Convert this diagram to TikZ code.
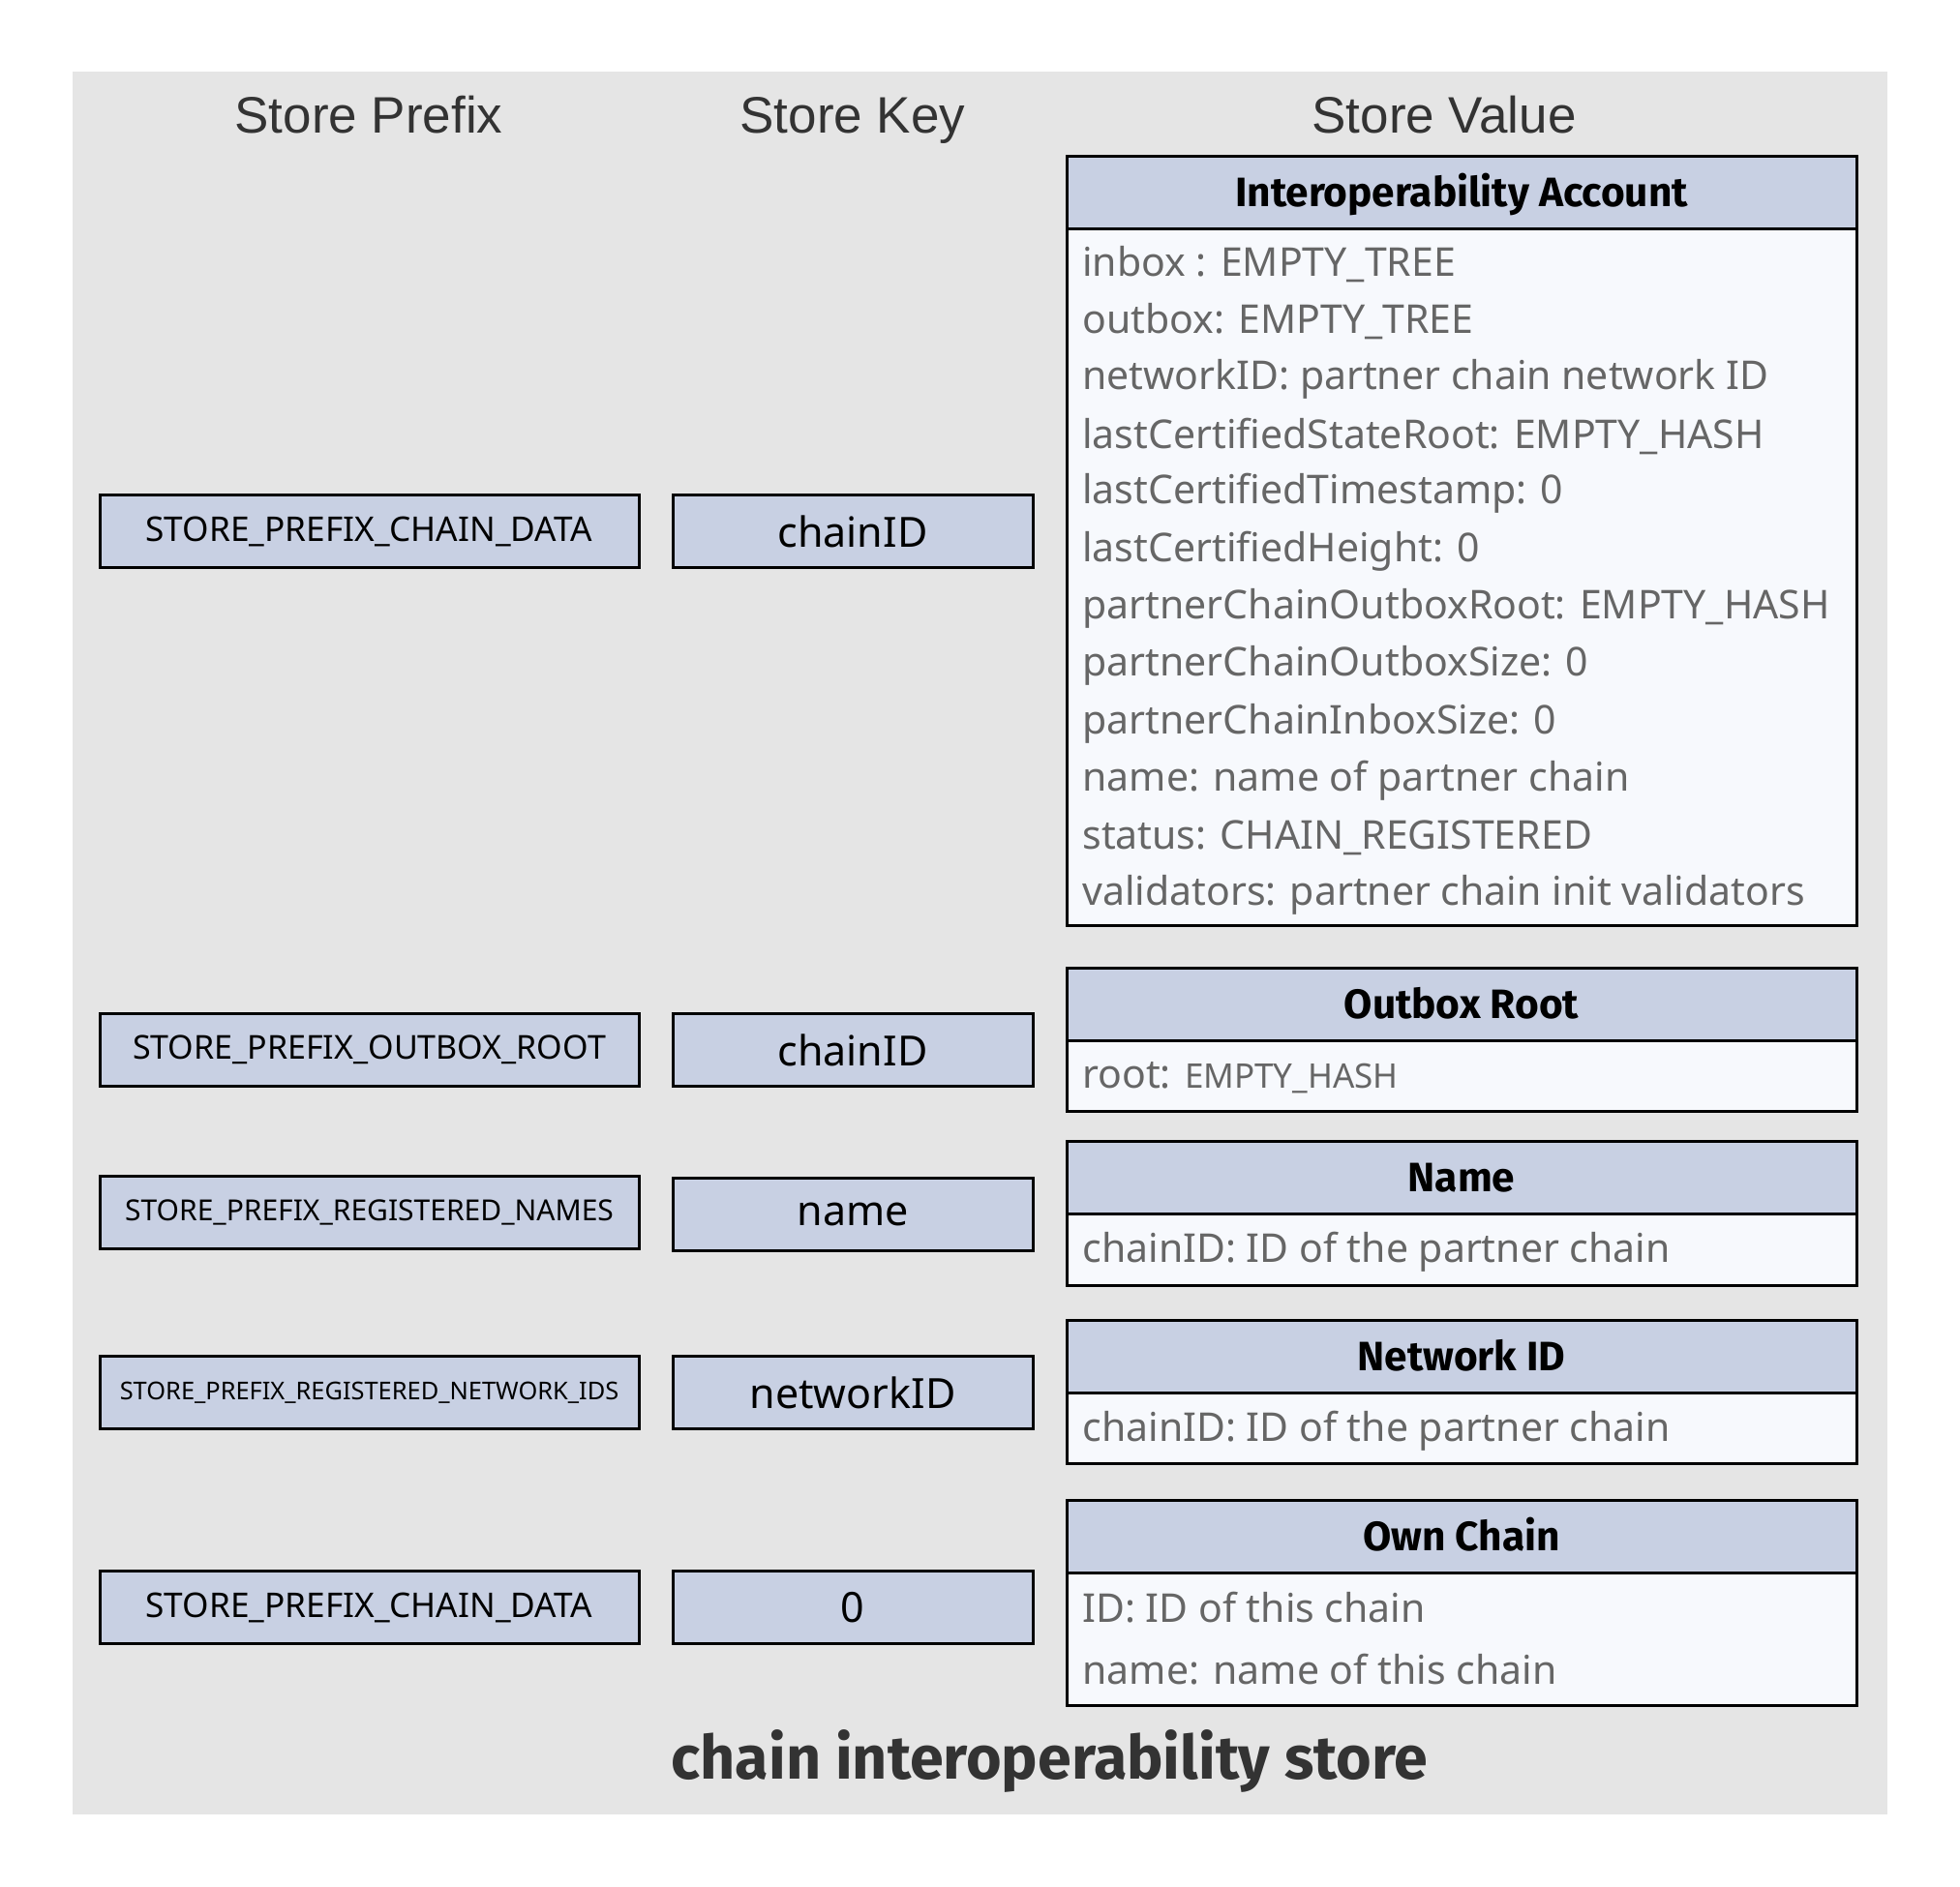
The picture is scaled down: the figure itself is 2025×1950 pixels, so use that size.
\documentclass[tikz,border=0pt]{standalone}
\usepackage{fontspec}
\setmainfont{Liberation Sans}
\newfontfamily\boxfont{Noto Sans}
\newfontfamily\headfont{Fira Sans}
\usetikzlibrary{positioning}
\definecolor{bggray}{HTML}{E5E5E5}
\definecolor{keyblue}{HTML}{C8D0E3}
\definecolor{bodywhite}{HTML}{F7F9FD}
\definecolor{fieldgray}{HTML}{666666}
\definecolor{headgray}{HTML}{333333}

\begin{document}
\begin{tikzpicture}[x=0.5pt,y=-0.5pt,
    colhead/.style={anchor=base,text=headgray,font=\fontsize{26.5}{30}\selectfont},
    prefixbox/.style={draw,line width=1.5pt,fill=keyblue,minimum width=278.5pt,
      minimum height=37.5pt,inner sep=0pt},
    keybox/.style={prefixbox,minimum width=186pt,font=\boxfont\fontsize{21.5}{24}\selectfont},
    valhead/.style={draw,line width=1.5pt,fill=keyblue,minimum width=408pt,
      minimum height=37.5pt,inner sep=0pt,text height=14.6pt,text depth=0pt,
      font=\headfont\bfseries\fontsize{21.2}{24}\selectfont},
    valbody/.style={draw,line width=1.5pt,fill=bodywhite},
    field/.style={anchor=west,inner sep=0pt,text=fieldgray,font=\boxfont\fontsize{20.5}{24}\selectfont}]
    % Page and background
    \useasboundingbox (0,0) rectangle (2025,1950);
    \fill[bggray] (75,74) rectangle (1950,1875);
    % Column headings
    \node[colhead] (hprefix) at (381,137.5) {Store Prefix};
    \node[colhead] (hkey) at (881,137.5) {Store Key};
    \node[colhead] (hvalue) at (1492,137.5) {Store Value};
    % Prefixes
    \node[prefixbox,font=\boxfont\fontsize{17.6}{20}\selectfont] (pchain) at (381.5,549) {STORE\_PREFIX\_CHAIN\_DATA};
    \node[prefixbox,font=\boxfont\fontsize{17}{20}\selectfont] (pout) at (381.5,1085) {STORE\_PREFIX\_OUTBOX\_ROOT};
    \node[prefixbox,font=\boxfont\fontsize{15}{18}\selectfont] (pnames) at (381.5,1253) {STORE\_PREFIX\_REGISTERED\_NAMES};
    \node[prefixbox,font=\boxfont\fontsize{12.7}{15}\selectfont] (pnet) at (381.5,1439) {STORE\_PREFIX\_REGISTERED\_NETWORK\_IDS};
    \node[prefixbox,font=\boxfont\fontsize{17.6}{20}\selectfont] (pown) at (381.5,1661) {STORE\_PREFIX\_CHAIN\_DATA};
    % Keys
    \node[keybox] (kchain) at (881,549) {chainID};
    \node[keybox] (kout) at (881,1085) {chainID};
    \node[keybox] (kname) at (881,1255) {name};
    \node[keybox] (knet) at (881,1439) {networkID};
    \node[keybox] (kown) at (881,1661) {0};
    % Interoperability account
    \draw[valbody] (1102,236) rectangle (1918,956);
    \node[valhead] (acchead) at (1510,198.5) {Interoperability Account};
    \foreach \txt [count=\i] in {inbox : EMPTY\_TREE, outbox: EMPTY\_TREE,
      networkID: partner chain network ID, lastCertifiedStateRoot: EMPTY\_HASH,
      lastCertifiedTimestamp: 0, lastCertifiedHeight: 0,
      partnerChainOutboxRoot: EMPTY\_HASH, partnerChainOutboxSize: 0,
      partnerChainInboxSize: 0, name: name of partner chain,
      status: CHAIN\_REGISTERED, validators: partner chain init validators}
      \node[field] (acc\i) at (1118,{273+59.3*(\i-1)}) {\txt};
    % Outbox root
    \draw[valbody] (1102,1075) rectangle (1918,1148);
    \node[valhead] (outhead) at (1510,1037.5) {Outbox Root};
    \node[field] (outroot) at (1118,1114) {root: {\fontsize{17.5}{20}\selectfont EMPTY\_HASH}};
    % Name
    \draw[valbody] (1102,1254) rectangle (1918,1328);
    \node[valhead] (namehead) at (1510,1216.5) {Name};
    \node[field] (nameid) at (1118,1294) {chainID: ID of the partner chain};
    % Network ID
    \draw[valbody] (1102,1439) rectangle (1918,1512);
    \node[valhead] (nethead) at (1510,1401.5) {Network ID};
    \node[field] (netid) at (1118,1479) {chainID: ID of the partner chain};
    % Own chain
    \draw[valbody] (1102,1625) rectangle (1918,1762);
    \node[valhead] (ownhead) at (1510,1587.5) {Own Chain};
    \node[field] (ownid) at (1118,1661) {ID: ID of this chain};
    \node[field] (ownname) at (1118,1725) {name: name of this chain};
    % Caption
    \node[anchor=base,text=headgray,font=\headfont\bfseries\fontsize{31.4}{34}\selectfont]
      (title) at (1084.5,1838) {chain interoperability store};
\end{tikzpicture}
\end{document}
